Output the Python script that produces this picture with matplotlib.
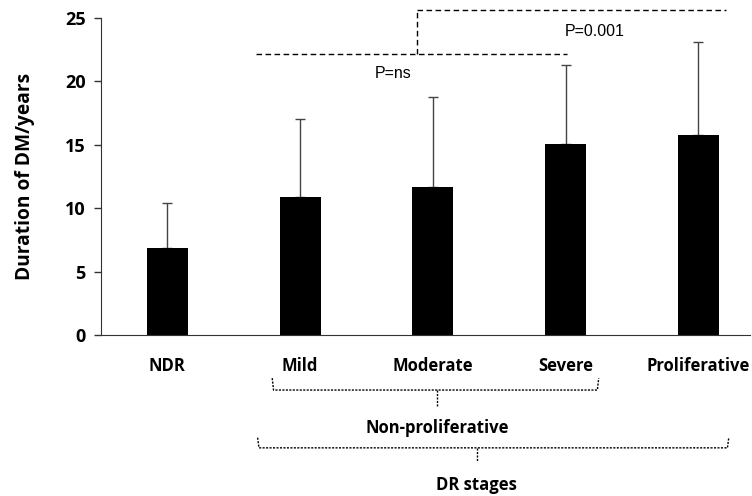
import matplotlib.pyplot as plt

stages = ['NDR', 'Mild', 'Moderate', 'Severe', 'Proliferative']
duration = [6.9, 10.9, 11.7, 15.1, 15.8]
sd = [3.5, 6.1, 7.1, 6.2, 7.3]

plt.rcParams['font.family'] = ['Open Sans', 'DejaVu Sans']

fig = plt.figure(figsize=(7.52, 4.96), dpi=100)
ax = fig.add_axes([101 / 752, 1 - 335 / 496, 649 / 752, 317 / 496])

x = list(range(len(stages)))
ax.bar(x, duration, width=0.31, color='black', zorder=2)
ax.errorbar(x, duration, yerr=[[0] * len(sd), sd], fmt='none',
            ecolor='#444444', elinewidth=1, capsize=3.5, capthick=1, zorder=1)

ax.set_xlim(-0.5, 4.39)
ax.set_ylim(0, 25)
ax.set_yticks([0, 5, 10, 15, 20, 25])
ax.set_xticks(x)
ax.set_xticklabels(stages, fontweight='bold', fontsize=12)
ax.tick_params(axis='x', length=0, pad=16)
ax.tick_params(axis='y', direction='out', length=5, width=1, labelsize=13, pad=6, color='#333333')
for lbl in ax.get_yticklabels():
    lbl.set_fontweight('bold')
ax.set_ylabel('Duration of DM/years', fontweight='bold', fontsize=13.8, labelpad=22)
ax.spines['top'].set_visible(False)
ax.spines['right'].set_visible(False)
ax.spines['left'].set_color('#333333')
ax.spines['bottom'].set_color('#333333')

# significance lines
dash = dict(color='black', lw=1, ls=(0, (4, 2.5)), clip_on=False)
ax.plot([0.67, 3.01], [22.2, 22.2], **dash)
ax.plot([1.88, 1.88], [22.2, 25.6], **dash)
ax.plot([1.88, 4.21], [25.6, 25.6], **dash)
ax.text(1.70, 20.6, 'P=ns', fontsize=11.5, family='Liberation Sans', ha='center', va='center')
ax.text(3.22, 23.9, 'P=0.001', fontsize=11.5, family='Liberation Sans', ha='center', va='center')

# braces under the axis
dot = dict(color='black', lw=1, ls=(0, (1.5, 1)), clip_on=False)
ax.plot([0.79, 0.80, 3.24, 3.25], [-3.4, -4.34, -4.34, -3.4], **dot)
ax.plot([2.03, 2.03], [-4.34, -5.7], **dot)
ax.text(2.03, -7.33, 'Non-proliferative', fontweight='bold', fontsize=12, ha='center', va='center')
ax.plot([0.68, 0.69, 4.22, 4.23], [-8.1, -8.9, -8.9, -8.1], **dot)
ax.plot([2.33, 2.33], [-8.9, -10.0], **dot)
ax.text(2.33, -11.85, 'DR stages', fontweight='bold', fontsize=12, ha='center', va='center')

fig.savefig('out.png', dpi=100)
